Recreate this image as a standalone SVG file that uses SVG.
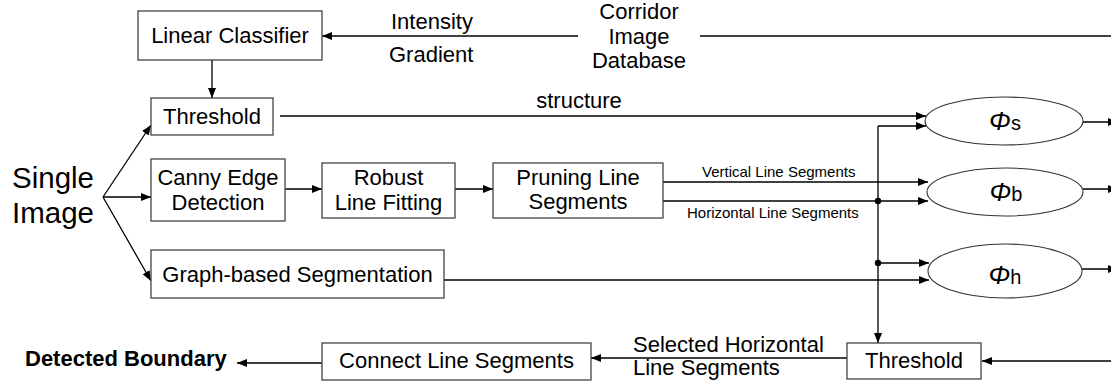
<svg xmlns="http://www.w3.org/2000/svg" width="1111" height="381" viewBox="0 0 1111 381">
<defs>
<marker id="ah" markerUnits="userSpaceOnUse" markerWidth="11" markerHeight="9" refX="10" refY="4" orient="auto">
<path d="M0,0 L10,4 L0,8 z" fill="#000"/>
</marker>
<style>
text{font-family:"Liberation Sans",Arial,sans-serif;fill:#000}
.t{font-size:22px}
.c{text-anchor:middle}
.s{font-size:15px}
.box{fill:#fff;stroke:#444;stroke-width:1.3}
.ell{fill:#fff;stroke:#333;stroke-width:1.1}
.ln{fill:none;stroke:#000;stroke-width:1.3}
.ar{fill:none;stroke:#000;stroke-width:1.3;marker-end:url(#ah)}
.phi{font-size:26px;font-style:italic}
.sub{font-size:20px}
</style>
</defs>
<rect width="1111" height="381" fill="#fff"/>

<g id="connectors">
<line class="ar" x1="578" y1="36" x2="322" y2="36"/>
<line class="ln" x1="700" y1="36" x2="1111" y2="36"/>
<line class="ar" x1="212" y1="60" x2="212" y2="98"/>
<line class="ar" x1="103" y1="197" x2="151" y2="125"/>
<line class="ar" x1="103" y1="197" x2="151" y2="197"/>
<line class="ar" x1="103" y1="197" x2="151" y2="281"/>
<line class="ar" x1="285" y1="189" x2="322" y2="189"/>
<line class="ar" x1="455" y1="189" x2="493" y2="189"/>
<line class="ar" x1="280" y1="116" x2="926" y2="116"/>
<line class="ar" x1="663" y1="182" x2="928" y2="182"/>
<line class="ar" x1="663" y1="201" x2="928" y2="201"/>
<line class="ar" x1="444" y1="280" x2="929" y2="280"/>
<line class="ar" x1="878" y1="126" x2="926" y2="126"/>
<line class="ar" x1="878" y1="126" x2="878" y2="343"/>
<line class="ar" x1="878" y1="263" x2="929" y2="263"/>
<circle cx="878" cy="201" r="3.2" fill="#000"/>
<circle cx="878" cy="263" r="3.2" fill="#000"/>
<line class="ar" x1="1083" y1="122" x2="1118" y2="122"/>
<line class="ar" x1="1083" y1="189" x2="1118" y2="189"/>
<line class="ar" x1="1082" y1="269" x2="1118" y2="269"/>
<line class="ar" x1="1111" y1="361" x2="982" y2="361"/>
<line class="ar" x1="847" y1="358" x2="591" y2="358"/>
<line class="ar" x1="322" y1="363" x2="237" y2="363"/>
</g>

<g id="labels">
<text class="t" x="391" y="29">Intensity</text>
<text class="t" x="389" y="62">Gradient</text>
<text class="t" x="579" y="108" text-anchor="middle">structure</text>
<text class="s" x="702" y="177">Vertical Line Segments</text>
<text class="s" x="687" y="218">Horizontal Line Segments</text>
<text class="t" x="633" y="352">Selected Horizontal</text>
<text class="t" x="633" y="375">Line Segments</text>
</g>

<g id="corridor-db">
<text class="t c" x="639" y="19">Corridor</text>
<text class="t c" x="639" y="44">Image</text>
<text class="t c" x="639" y="68">Database</text>
</g>

<g id="single-image">
<text x="12" y="188" style="font-size:29.5px">Single</text>
<text x="12" y="223" style="font-size:29.5px">Image</text>
</g>

<g id="linear-classifier">
<rect class="box" x="138" y="11" width="184" height="49"/>
<text class="t c" x="230" y="43">Linear Classifier</text>
</g>

<g id="threshold-top">
<rect class="box" x="151" y="98" width="122" height="37"/>
<text class="t c" x="212" y="124">Threshold</text>
</g>

<g id="canny">
<rect class="box" x="151" y="159" width="134" height="62"/>
<text class="t c" x="218" y="185">Canny Edge</text>
<text class="t c" x="218" y="210">Detection</text>
</g>

<g id="robust">
<rect class="box" x="322" y="163" width="133" height="55"/>
<text class="t c" x="388.5" y="185">Robust</text>
<text class="t c" x="388.5" y="210">Line Fitting</text>
</g>

<g id="pruning">
<rect class="box" x="493" y="163" width="170" height="55"/>
<text class="t c" x="578" y="185">Pruning Line</text>
<text class="t c" x="578" y="209">Segments</text>
</g>

<g id="graph-seg">
<rect class="box" x="151" y="250" width="293" height="48"/>
<text class="t c" x="297.5" y="282">Graph-based Segmentation</text>
</g>

<g id="phi-s">
<ellipse class="ell" cx="1004" cy="121" rx="79" ry="24"/>
<text x="1005" y="130" text-anchor="middle"><tspan class="phi">Φ</tspan><tspan class="sub">s</tspan></text>
</g>

<g id="phi-b">
<ellipse class="ell" cx="1005" cy="192" rx="78" ry="24"/>
<text x="1006" y="201" text-anchor="middle"><tspan class="phi">Φ</tspan><tspan class="sub">b</tspan></text>
</g>

<g id="phi-h">
<ellipse class="ell" cx="1005" cy="271" rx="77" ry="27"/>
<text x="1005" y="284" text-anchor="middle"><tspan class="phi">Φ</tspan><tspan class="sub">h</tspan></text>
</g>

<g id="threshold-bottom">
<rect class="box" x="847" y="343" width="134" height="36"/>
<text class="t c" x="914" y="368">Threshold</text>
</g>

<g id="connect">
<rect class="box" x="322" y="343" width="269" height="37"/>
<text class="t c" x="456.5" y="368">Connect Line Segments</text>
</g>

<g id="detected-boundary">
<text x="25" y="366" style="font-size:22px;font-weight:bold">Detected Boundary</text>
</g>
</svg>
